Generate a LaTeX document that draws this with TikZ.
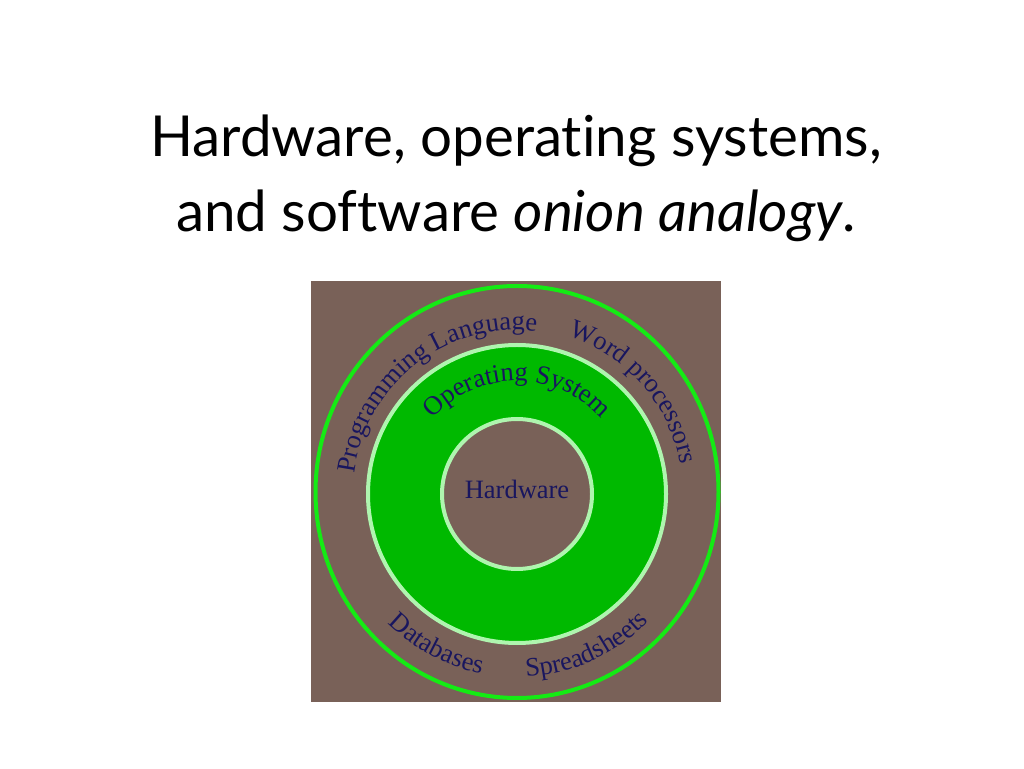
\documentclass[tikz,border=0pt]{standalone}
\usepackage{fontspec}
\usetikzlibrary{decorations.text}
\newfontfamily\titlefont[Ligatures=NoCommon]{Lato}
\newfontfamily\ringserif{Liberation Serif}
\definecolor{onionbrown}{RGB}{121,97,88}
\definecolor{skingreen}{RGB}{20,235,20}
\definecolor{osgreen}{RGB}{0,185,0}
\definecolor{paleline}{RGB}{175,245,175}
\definecolor{labelblue}{RGB}{25,22,95}
\newcommand{\ringfont}{\ringserif\fontsize{26.5}{26.5}\selectfont\color{labelblue}}

\begin{document}
\begin{tikzpicture}[x=1pt,y=1pt,
  ringtext/.style={decorate,decoration={text along path,text align=center,text={|\ringfont|#1}}}]
\useasboundingbox (0,0) rectangle (1024,768);
\fill[white] (0,0) rectangle (1024,768);
\node[font=\titlefont\fontsize{56.5}{56.5}\selectfont,anchor=base] (title1) at (516,611) {Hardware, operating systems,};
\node[font=\titlefont\fontsize{56.5}{56.5}\selectfont,anchor=base] (title2) at (516,536) {and software \textit{onion analogy}.};

\fill[onionbrown] (311,66) rectangle (721,487);
\draw[skingreen,line width=4pt] (517,276) ellipse[x radius=201.5,y radius=206];
\draw[fill=osgreen,draw=paleline,line width=4pt] (517,274) circle[radius=149];
\draw[fill=onionbrown,draw=paleline,line width=4pt] (517,274) circle[radius=75];
\node[font=\ringfont,anchor=base] (hw) at (517,269) {Hardware};

\path[ringtext={Operating System}] (517,274) ++(150:113) arc[start angle=150,end angle=30,radius=113];
\path[ringtext={Programming Language}] (517,274) ++(188:164) arc[start angle=188,end angle=68,radius=164];
\path[ringtext={Word processors}] (517,274) ++(101:166) arc[start angle=101,end angle=-19,radius=166];
\path[ringtext={Databases}] (517,274) ++(192:183) arc[start angle=192,end angle=292,radius=183];
\path[ringtext={Spreadsheets}] (517,274) ++(244.5:183) arc[start angle=244.5,end angle=344.5,radius=183];
\end{tikzpicture}
\end{document}
